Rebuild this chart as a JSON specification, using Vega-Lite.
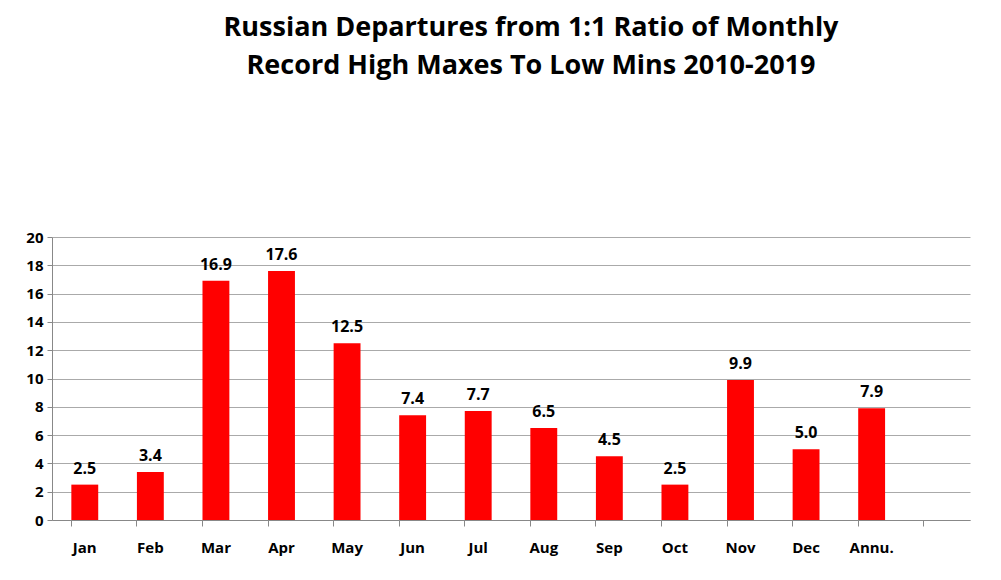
{
  "$schema": "https://vega.github.io/schema/vega-lite/v6.json",
  "width": 918,
  "height": 283,
  "autosize": {"type": "none"},
  "padding": {"left": 52, "top": 237, "right": 31, "bottom": 60},
  "background": "white",
  "title": {
    "text": ["Russian Departures from 1:1 Ratio of Monthly", "Record High Maxes To Low Mins 2010-2019"],
    "font": "Open Sans",
    "fontSize": 27,
    "fontWeight": "bold",
    "color": "black",
    "lineHeight": 38,
    "offset": 150,
    "anchor": "middle",
    "dx": 20
  },
  "data": {
    "values": [
      {"m": "Jan", "v": 2.5},
      {"m": "Feb", "v": 3.4},
      {"m": "Mar", "v": 16.9},
      {"m": "Apr", "v": 17.6},
      {"m": "May", "v": 12.5},
      {"m": "Jun", "v": 7.4},
      {"m": "Jul", "v": 7.7},
      {"m": "Aug", "v": 6.5},
      {"m": "Sep", "v": 4.5},
      {"m": "Oct", "v": 2.5},
      {"m": "Nov", "v": 9.9},
      {"m": "Dec", "v": 5.0},
      {"m": "Annu.", "v": 7.9}
    ]
  },
  "encoding": {
    "x": {
      "field": "m", "type": "nominal", "sort": null, "title": null,
      "scale": {"domain": ["Jan", "Feb", "Mar", "Apr", "May", "Jun", "Jul", "Aug", "Sep", "Oct", "Nov", "Dec", "Annu.", " "], "paddingInner": 0.59, "paddingOuter": 0.295},
      "axis": {"labelAngle": 0, "labelFont": "Open Sans", "labelFontSize": 15, "labelFontWeight": "bold", "labelColor": "black", "labelPadding": 14, "domainColor": "#888", "tickColor": "#888", "tickSize": 6, "bandPosition": 0}
    },
    "y": {
      "field": "v", "type": "quantitative", "title": null,
      "scale": {"domain": [0, 20]},
      "axis": {"values": [0, 2, 4, 6, 8, 10, 12, 14, 16, 18, 20], "labelFont": "Open Sans", "labelFontSize": 15, "labelFontWeight": "bold", "labelColor": "black", "gridColor": "#aaa", "domainColor": "#888", "tickColor": "#888", "tickSize": 5, "labelPadding": 4}
    }
  },
  "layer": [
    {"mark": {"type": "bar", "color": "#ff0000"}},
    {
      "mark": {"type": "text", "dy": -16, "font": "Open Sans", "fontSize": 16, "fontWeight": "bold", "color": "black"},
      "encoding": {"text": {"field": "v", "type": "quantitative", "format": ".1f"}}
    }
  ],
  "config": {"view": {"stroke": null}}
}
